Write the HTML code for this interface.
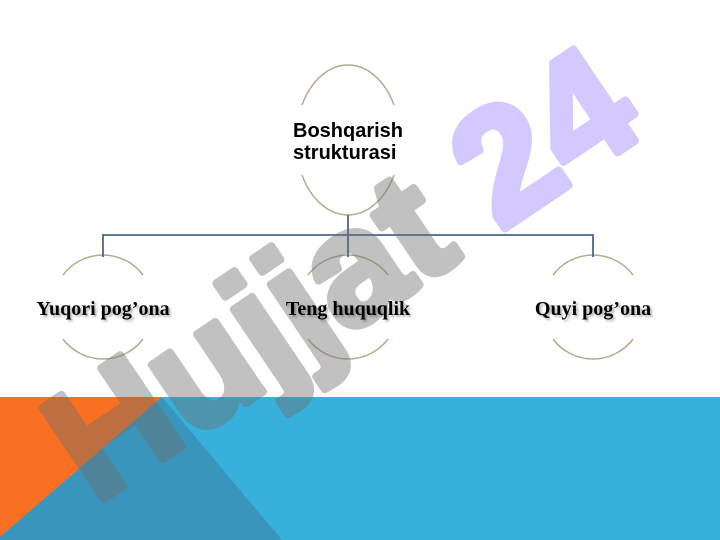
<!DOCTYPE html>
<html><head><meta charset="utf-8"><style>
html,body{margin:0;padding:0;background:#fff;}
svg{display:block}
</style></head><body>
<svg width="720" height="540" xmlns="http://www.w3.org/2000/svg">
<rect width="720" height="540" fill="#fff"/>
<rect x="0" y="397" width="720" height="143" fill="#38b0dc"/>
<polygon points="0,397 162,397 0,537" fill="#f97022"/>
<polygon points="162,397 0,537 0,540 282,540" fill="#3a95bd"/>
<g fill="none" stroke="#b8a98a" stroke-width="1.5">
<path d="M302,105 A52,75 0 0 1 394,105"/>
<path d="M302,175 A52,75 0 0 0 394,175"/>
<path d="M63,275 A50,50 0 0 1 143,275"/><path d="M63,339 A50,50 0 0 0 143,339"/>
<path d="M308,275 A50,50 0 0 1 388,275"/><path d="M308,339 A50,50 0 0 0 388,339"/>
<path d="M553,275 A50,50 0 0 1 633,275"/><path d="M553,339 A50,50 0 0 0 633,339"/>
</g>
<g fill="none" stroke="#4a6890" stroke-width="1.8">
<path d="M348,215 V235 M103,257 V235 H593 V257 M348,235 V257"/>
</g>
<g opacity="0.42" font-family="Liberation Sans, sans-serif" font-weight="bold" font-size="160" transform="translate(95,505) rotate(-34)" stroke-width="8" stroke-linejoin="round">
<text x="0" y="0" fill="#6e6e6e" stroke="#6e6e6e">Hujjat <tspan fill="#9a80ff" stroke="#9a80ff">24</tspan></text>
</g>
<g font-family="Liberation Sans, sans-serif" font-weight="bold" font-size="20" fill="#000">
<text x="293" y="137">Boshqarish</text>
<text x="293" y="159">strukturasi</text>
</g>
<g font-family="Liberation Serif, serif" font-weight="bold" font-size="20" fill="#000" text-anchor="middle" style="text-shadow:2px 2px 2px rgba(0,0,0,0.3)">
<text x="103" y="315">Yuqori pog’ona</text>
<text x="348" y="315">Teng huquqlik</text>
<text x="593" y="315">Quyi pog’ona</text>
</g>
</svg>
</body></html>
